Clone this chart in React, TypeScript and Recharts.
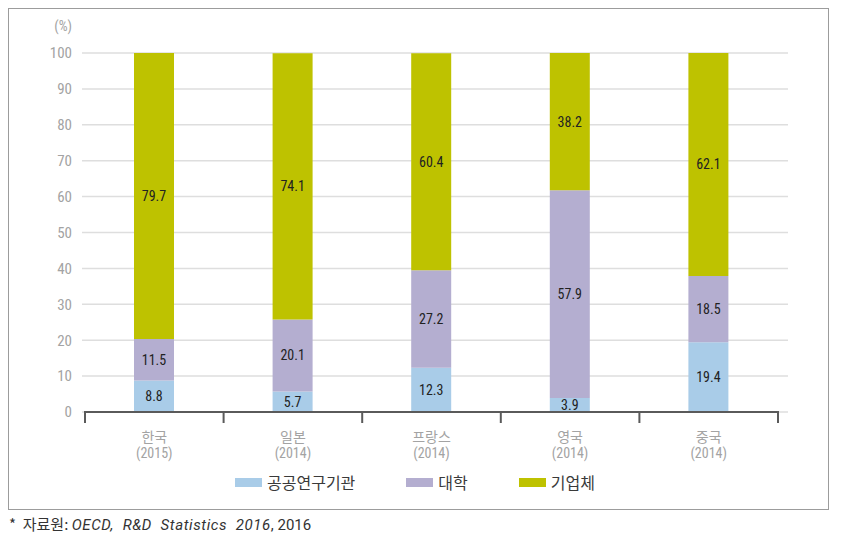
import React from 'react';
import { BarChart, Bar, XAxis, YAxis, CartesianGrid, Legend, LabelList } from 'recharts';

const categories = ['한국', '일본', '프랑스', '영국', '중국'];
const years = ['(2015)', '(2014)', '(2014)', '(2014)', '(2014)'];
const publicInst = [8.8, 5.7, 12.3, 3.9, 19.4];
const university = [11.5, 20.1, 27.2, 57.9, 18.5];
const business = [79.7, 74.1, 60.4, 38.2, 62.1];
const yTicks = [0, 10, 20, 30, 40, 50, 60, 70, 80, 90, 100];

const seriesNames = ['공공연구기관', '대학', '기업체'];
const colors = ['#a9cce8', '#b4aed0', '#bec200'];

const data = categories.map((c, i) => ({
  name: c,
  year: years[i],
  publicInst: publicInst[i],
  university: university[i],
  business: business[i],
}));

const CHART_W = 819;
const CHART_H = 500;
const MARGIN = { top: 44, right: 40, bottom: 15, left: 16 };
const Y_W = 57;
const PAD_L = 3;
const PAD_R = 10;
const PLOT_W = CHART_W - MARGIN.left - MARGIN.right - Y_W;
const BAND = (PLOT_W - PAD_L - PAD_R) / categories.length;

const NUM_FONT = '"Liberation Sans Narrow", "Roboto Condensed", "DejaVu Sans Condensed", Roboto, "Noto Sans CJK KR", sans-serif';
const KR_FONT = '"Noto Sans CJK KR", Roboto, sans-serif';

const XTick = (props: any) => {
  const { x, y, payload, index } = props;
  const i = index ?? categories.indexOf(payload.value);
  const half = BAND / 2;
  const isLast = i === categories.length - 1;
  return (
    <g>
      <line x1={x - half} x2={x + half} y1={y} y2={y} stroke="#5a5a5a" strokeWidth={2} />
      <line x1={x - half} x2={x - half} y1={y - 1} y2={y + 11} stroke="#5a5a5a" strokeWidth={2} />
      {isLast && <line x1={x + half} x2={x + half} y1={y - 1} y2={y + 11} stroke="#5a5a5a" strokeWidth={2} />}
      <text x={x} y={y + 30} textAnchor="middle" fill="#a3a3a3" fontSize={14} fontFamily={KR_FONT}>
        {payload.value}
      </text>
      <text x={x} y={y + 46} textAnchor="middle" fill="#a3a3a3" fontSize={14} fontFamily={NUM_FONT}>
        {years[i]}
      </text>
    </g>
  );
};

const LegendContent = () => (
  <div
    style={{
      display: 'flex',
      justifyContent: 'center',
      alignItems: 'center',
      height: 24,
      paddingRight: 7,
      fontFamily: KR_FONT,
      fontSize: 16,
      color: '#3a3a3a',
    }}
  >
    {seriesNames.map((n, i) => (
      <div key={n} style={{ display: 'flex', alignItems: 'center', marginLeft: i === 0 ? 0 : 51 }}>
        <span style={{ display: 'inline-block', width: 27, height: 9, background: colors[i], marginRight: 5 }} />
        <span>{n}</span>
      </div>
    ))}
  </div>
);

const labelStyle = { fill: '#222', fontSize: 14, fontFamily: NUM_FONT };

export default function App() {
  return (
    <div style={{ width: 849 - 16 }}>
      <div
        style={{
          width: 821,
          height: 502,
          border: '1px solid #9c9c9c',
          boxSizing: 'border-box',
          position: 'relative',
        }}
      >
        <BarChart width={CHART_W} height={CHART_H} data={data} margin={MARGIN} barSize={40}>
          <CartesianGrid horizontal vertical={false} stroke="#dedede" strokeWidth={1.5} />
          <XAxis
            dataKey="name"
            axisLine={false}
            tickLine={false}
            tickSize={0}
            tickMargin={0}
            tick={<XTick />}
            height={58}
            padding={{ left: PAD_L, right: PAD_R }}
            interval={0}
          />
          <YAxis
            width={Y_W}
            domain={[0, 100]}
            ticks={yTicks}
            axisLine={false}
            tickLine={false}
            tickSize={0}
            tickMargin={10}
            tick={{ fill: '#a3a3a3', fontSize: 15, fontFamily: NUM_FONT }}
            label={{
              content: (p: any) => (
                <text
                  x={p.viewBox.x + p.viewBox.width - 10}
                  y={p.viewBox.y - 22}
                  textAnchor="end"
                  fill="#a3a3a3"
                  fontSize={14}
                  fontFamily={NUM_FONT}
                >
                  (%)
                </text>
              ),
            }}
          />
          <Legend
            verticalAlign="bottom"
            height={24}
            wrapperStyle={{ left: 0, width: CHART_W }}
            content={<LegendContent />}
          />
          <Bar dataKey="publicInst" name={seriesNames[0]} stackId="a" fill={colors[0]} isAnimationActive={false}>
            <LabelList dataKey="publicInst" position="center" style={labelStyle} />
          </Bar>
          <Bar dataKey="university" name={seriesNames[1]} stackId="a" fill={colors[1]} isAnimationActive={false}>
            <LabelList dataKey="university" position="center" style={labelStyle} />
          </Bar>
          <Bar dataKey="business" name={seriesNames[2]} stackId="a" fill={colors[2]} isAnimationActive={false}>
            <LabelList dataKey="business" position="center" style={labelStyle} />
          </Bar>
        </BarChart>
      </div>
      <div style={{ marginTop: 5, fontSize: 15, lineHeight: '18px', color: '#333', fontFamily: KR_FONT, paddingLeft: 1 }}>
        *&nbsp; 자료원: <i style={{ fontFamily: 'Roboto, sans-serif', letterSpacing: 0.6 }}>OECD,&nbsp; R&amp;D&nbsp; Statistics&nbsp; 2016</i>
        <span style={{ fontFamily: 'Roboto, sans-serif' }}>, 2016</span>
      </div>
    </div>
  );
}
